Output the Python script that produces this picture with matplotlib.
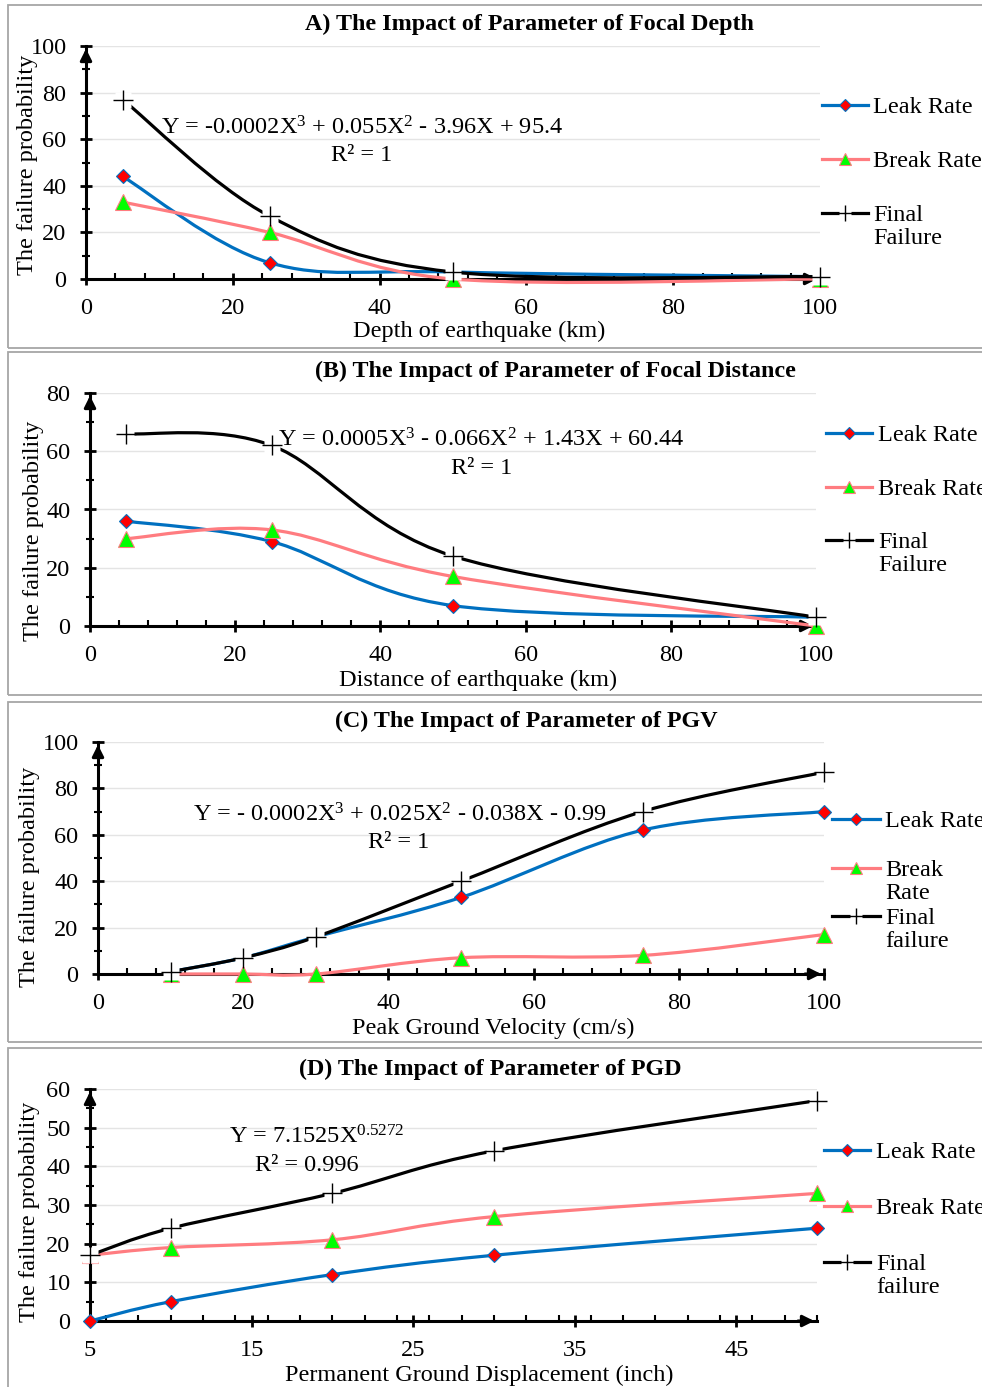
import numpy as np
import matplotlib.pyplot as plt
from matplotlib.path import Path
from matplotlib.patches import PathPatch, Rectangle
from matplotlib.lines import Line2D
from matplotlib.ticker import MultipleLocator

plt.rcParams['font.family'] = ['Liberation Serif', 'DejaVu Serif']
plt.rcParams['mathtext.fontset'] = 'custom'
plt.rcParams['mathtext.rm'] = 'Liberation Serif'
plt.rcParams['mathtext.it'] = 'Liberation Serif:italic'

W, H = 982, 1387
FS = 17.5

# (A) focal depth
depth_x = [5, 25, 50, 100]
depth_leak = [44, 7, 3, 1]
depth_break = [33, 20, 0, 0]
depth_final = [77, 27, 3, 1]

# (B) focal distance
dist_x = [5, 25, 50, 100]
dist_leak = [36, 29, 7, 3]
dist_break = [30, 33, 17, 0]
dist_final = [66, 62, 24, 3]

# (C) PGV
pgv_x = [10, 20, 30, 50, 75, 100]
pgv_leak = [1, 7, 16, 33, 62, 70]
pgv_break = [0, 0, 0, 7, 8, 17]
pgv_final = [1, 7, 16, 40, 70, 87]

# (D) PGD
pgd_x = [5, 10, 20, 30, 50]
pgd_leak = [0, 5, 12, 17, 24]
pgd_break = [17, 19, 21, 27, 33]
pgd_final = [17, 24, 33, 44, 57]

titles = ['A) The Impact of Parameter of Focal Depth',
          '(B) The Impact of Parameter of Focal Distance',
          '(C) The Impact of Parameter of PGV',
          '(D) The Impact of Parameter of PGD']
xlabels = ['Depth of earthquake (km)', 'Distance of earthquake (km)',
           'Peak Ground Velocity (cm/s)', 'Permanent Ground Displacement (inch)']
equations = ['Y = -0.0002X$^{3}$ + 0.055X$^{2}$ - 3.96X + 95.4',
             'Y = 0.0005X$^{3}$ - 0.066X$^{2}$ + 1.43X + 60.44',
             'Y = - 0.0002X$^{3}$ + 0.025X$^{2}$ - 0.038X - 0.99',
             'Y = 7.1525X$^{0.5272}$']
r2_texts = ['R² = 1', 'R² = 1', 'R² = 1', 'R² = 0.996']
legend_labels = [['Leak Rate', 'Break Rate', 'Final\nFailure'],
                 ['Leak Rate', 'Break Rate', 'Final\nFailure'],
                 ['Leak Rate', 'Break\nRate', 'Final\nfailure'],
                 ['Leak Rate', 'Break Rate', 'Final\nfailure']]

panels = [
    dict(x=depth_x, s=[depth_leak, depth_break, depth_final], rect=(86, 279, 734, 233),
         xlim=(0, 100), ylim=(0, 100), xmaj=20, xmin=4, ymaj=20, ymin=10,
         eq=(37.6, 65), r2=(37.5, 53), ylab=(-0.080, 0.49), xlab=(0.535, -0.227),
         title=(529, 24), frame=(8, 5, 348), leg=(822, 868, 873, [105, 159, 213])),
    dict(x=dist_x, s=[dist_leak, dist_break, dist_final], rect=(90, 626, 726, 233),
         xlim=(0, 100), ylim=(0, 80), xmaj=20, xmin=4, ymaj=20, ymin=10,
         eq=(53.9, 64), r2=(53.9, 54.2), ylab=(-0.078, 0.41), xlab=(0.534, -0.232),
         title=(555, 371), frame=(8, 352, 695), leg=(826, 872, 878, [433, 487, 540])),
    dict(x=pgv_x, s=[pgv_leak, pgv_break, pgv_final], rect=(98, 974, 726, 232),
         xlim=(0, 100), ylim=(0, 100), xmaj=20, xmin=4, ymaj=20, ymin=10,
         eq=(41.6, 68.5), r2=(41.4, 56.5), ylab=(-0.095, 0.42), xlab=(0.545, -0.233),
         title=(526, 721), frame=(8, 702, 1042), leg=(832, 880, 885, [819, 868, 916])),
    dict(x=pgd_x, s=[pgd_leak, pgd_break, pgd_final], rect=(90, 1321, 727, 232),
         xlim=(5, 50), ylim=(0, 60), xmaj=10, xmin=2, ymaj=10, ymin=5,
         eq=(19.0, 47.6), r2=(18.4, 40.3), ylab=(-0.083, 0.47), xlab=(0.536, -0.233),
         title=(490, 1069), frame=(8, 1048, 1400), leg=(824, 870, 876, [1150, 1206, 1262])),
]

blue = '#0070C0'
pink = '#FF7C80'
styles = [dict(color=blue, marker='D', mfc='#FF0000', mec=blue, ms=7, mew=0.8),
          dict(color=pink, marker='^', mfc='#00FF00', mec=pink, ms=11, mew=0.8),
          dict(color='black', marker='+', mfc='black', mec='black', ms=14, mew=1.0)]


def smooth_path(x, y):
    p = np.column_stack([x, y]).astype(float)
    n = len(p)
    verts = [p[0]]
    codes = [Path.MOVETO]
    for i in range(n - 1):
        p0 = p[i - 1] if i > 0 else p[i]
        p3 = p[i + 2] if i + 2 < n else p[i + 1]
        c1 = p[i] + (p[i + 1] - p0) / 6
        c2 = p[i + 1] - (p3 - p[i]) / 6
        verts += [c1, c2, p[i + 1]]
        codes += [Path.CURVE4] * 3
    return Path(verts, codes)


fig = plt.figure(figsize=(W / 100, H / 100), dpi=100)

for k, pn in enumerate(panels):
    # grey frame round each chart
    fl, ft, fb = pn['frame']
    fig.add_artist(Rectangle((fl / W, 1 - fb / H), (W + 20 - fl) / W, (fb - ft) / H,
                             transform=fig.transFigure, fill=False, ec='#a6a6a6', lw=1.3))

    left, bottom, w, h = pn['rect']
    ax = fig.add_axes([left / W, 1 - bottom / H, w / W, h / H])
    ax.set_xlim(*pn['xlim'])
    ax.set_ylim(*pn['ylim'])
    ax.xaxis.set_major_locator(MultipleLocator(pn['xmaj']))
    ax.xaxis.set_minor_locator(MultipleLocator(pn['xmin']))
    ax.yaxis.set_major_locator(MultipleLocator(pn['ymaj']))
    ax.yaxis.set_minor_locator(MultipleLocator(pn['ymin']))
    if k == 3:
        ax.set_xticks([5, 15, 25, 35, 45])
    ax.spines['top'].set_visible(False)
    ax.spines['right'].set_visible(False)
    for sp in ('left', 'bottom'):
        ax.spines[sp].set_linewidth(2.2)
        ax.spines[sp].set_zorder(1.5)
    ax.tick_params(which='major', direction='inout', length=8, width=2, labelsize=FS, pad=10)
    ax.tick_params(axis='x', which='minor', direction='in', length=4.5, width=1.5)
    ax.tick_params(axis='y', which='minor', direction='inout', length=6, width=1.5)
    ax.yaxis.grid(True, which='major', color='#e4e4e4', lw=1.0, zorder=0)
    ax.set_axisbelow(True)

    # arrow heads on the axes
    ax.annotate('', xy=(0, 1), xytext=(0, 0.93), xycoords='axes fraction',
                arrowprops=dict(arrowstyle='-|>', color='black', lw=2.2, mutation_scale=17))
    ax.annotate('', xy=(1, 0), xytext=(0.97, 0), xycoords='axes fraction',
                arrowprops=dict(arrowstyle='-|>', color='black', lw=2.2, mutation_scale=17))

    x = pn['x']
    for j, (y, st) in enumerate(zip(pn['s'], styles)):
        ax.add_patch(PathPatch(smooth_path(x, y), fill=False, ec=st['color'], lw=2.3,
                               zorder=2 + j, clip_on=False, capstyle='butt'))
        if j == 2:
            ax.plot(x, y, ls='none', marker='s', ms=11, mfc='white', mec='none',
                    zorder=6, clip_on=False)
        ax.plot(x, y, ls='none', marker=st['marker'], ms=st['ms'], mfc=st['mfc'],
                mec=st['mec'], mew=st['mew'], zorder=7 if j == 2 else 5, clip_on=False)

    ax.text(pn['eq'][0], pn['eq'][1], equations[k], fontsize=FS, ha='center', va='center',
            zorder=8)
    ax.text(pn['r2'][0], pn['r2'][1], r2_texts[k], fontsize=FS, ha='center', va='center',
            zorder=8)

    ax.set_ylabel('The failure probability', fontsize=FS)
    ax.yaxis.label.set_va('center')
    ax.yaxis.set_label_coords(*pn['ylab'])
    ax.set_xlabel(xlabels[k], fontsize=FS)
    ax.xaxis.label.set_va('center')
    ax.xaxis.set_label_coords(*pn['xlab'])

    tx, ty = pn['title']
    fig.text(tx / W, 1 - ty / H, titles[k], fontsize=17.3, fontweight='bold',
             ha='center', va='center')

    # legend drawn by hand to keep Excel's layout
    l0, l1, lt, rows = pn['leg']
    for j, (st, lab, ry) in enumerate(zip(styles, legend_labels[k], rows)):
        yy = 1 - ry / H
        fig.add_artist(Line2D([l0 / W, l1 / W], [yy, yy], transform=fig.transFigure,
                              color=st['color'], lw=2.3))
        mx = (l0 + l1) / 2 / W
        if j == 2:
            fig.add_artist(Line2D([mx], [yy], transform=fig.transFigure, ls='none',
                                  marker='s', ms=9, mfc='white', mec='none'))
        fig.add_artist(Line2D([mx], [yy], transform=fig.transFigure, ls='none',
                              marker=st['marker'], ms=st['ms'] * 0.85, mfc=st['mfc'],
                              mec=st['mec'], mew=st['mew']))
        fig.text(lt / W, 1 - (ry - 8) / H, lab, fontsize=FS, ha='left',
                 va='top', linespacing=1.12)

fig.savefig('out.png', dpi=100)
